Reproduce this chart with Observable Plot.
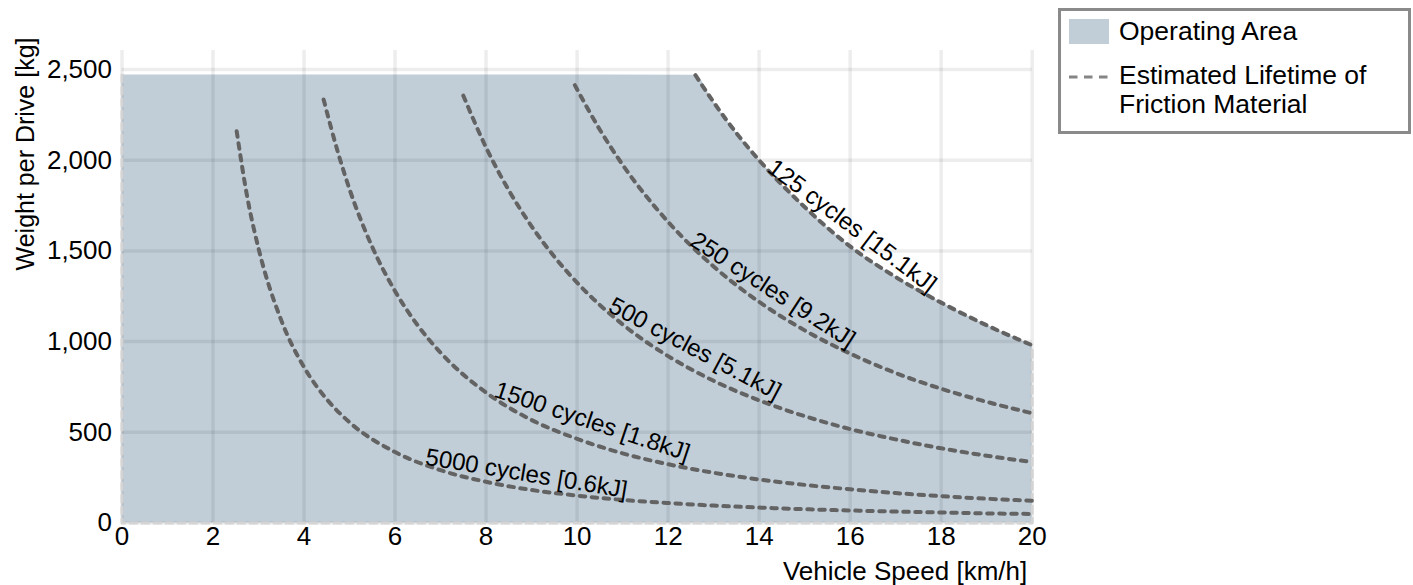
<!DOCTYPE html>
<html>
<head>
<meta charset="utf-8">
<script src="https://cdn.jsdelivr.net/npm/d3@7"></script>
<script src="https://cdn.jsdelivr.net/npm/@observablehq/plot@0.6"></script>
<style>
  html, body { margin: 0; padding: 0; background: #fff; }
  body { font-family: "Liberation Sans", Arial, Helvetica, sans-serif; }
  #wrap { position: relative; width: 1413px; height: 585px; overflow: hidden; }
  #chart { position: absolute; left: 0; top: 0; }
  #legend {
    position: absolute; left: 1058px; top: 8px; width: 347px; height: 120px;
    border: 3px solid #8a8a8a; background: #fff; font-size: 26.5px; color: #000;
  }
  .lg-row { position: absolute; left: 8px; display: flex; align-items: flex-start; }
  .lg-swatch { width: 40px; height: 25px; background: #c1ced8; }
  .lg-text { line-height: 29px; white-space: nowrap; }
</style>
</head>
<body>
<div id="wrap">
  <div id="chart"></div>
  <div id="legend">
    <div class="lg-row" style="top:8px;">
      <div class="lg-swatch"></div>
      <div class="lg-text" style="margin-left:10px; margin-top:-2px;">Operating Area</div>
    </div>
    <div class="lg-row" style="top:50px;">
      <svg width="40" height="30" style="display:block;"><line x1="0" y1="16" x2="40" y2="16" stroke="#858585" stroke-width="3" stroke-dasharray="8.5,6.5"></line></svg>
      <div class="lg-text" style="margin-left:10px;">Estimated Lifetime of<br>Friction Material</div>
    </div>
  </div>
</div>
<script>
// ---- Data ----
// Axis ticks
const xTicks = [0, 2, 4, 6, 8, 10, 12, 14, 16, 18, 20];
const yTicks = [0, 500, 1000, 1500, 2000, 2500];

// Operating area: flat top then follows the 125-cycle curve
const areaTopX = [0];
const areaTopY = [2470];

// Lifetime curves (vehicle speed km/h -> weight per drive kg)
const c125X = [12.6, 13, 13.5, 14, 15, 16, 17, 18, 19, 20];
const c125Y = [2469, 2320, 2150, 2000, 1742, 1525, 1356, 1215, 1090, 980];

const c250X = [9.95, 10.5, 11, 12, 13, 14, 15, 16, 17, 18, 19, 20];
const c250Y = [2414, 2168, 1975, 1660, 1414, 1219, 1062, 934, 827, 740, 668, 605];

const c500X = [7.5, 8, 8.5, 9, 9.5, 10, 11, 12, 13, 14, 15, 16, 17, 18, 19, 20];
const c500Y = [2356, 2070, 1834, 1636, 1468, 1325, 1095, 920, 784, 676, 589, 518, 461, 412, 371, 336];

const c1500X = [4.43, 4.75, 5, 5.5, 6, 6.5, 7, 8, 9, 10, 11, 12, 13, 14, 15, 16, 17, 18, 19, 20];
const c1500Y = [2335, 2039, 1840, 1521, 1278, 1089, 939, 719, 568, 464, 384, 324, 277, 240, 210, 186, 165, 148, 134, 123];

const c5000X = [2.52, 2.75, 3, 3.5, 4, 4.5, 5, 6, 7, 8, 9, 10, 11, 12, 13, 14, 15, 16, 17, 18, 19, 20];
const c5000Y = [2160, 1800, 1514, 1117, 859, 682, 555, 391, 291, 227, 182, 151, 127, 110, 96, 85, 76, 69, 63, 58, 53, 50];

// Curve labels (anchor positions of each label along its curve)
const labelText = ["125 cycles [15.1kJ]", "250 cycles [9.2kJ]", "500 cycles [5.1kJ]", "1500 cycles [1.8kJ]", "5000 cycles [0.6kJ]"];
const labelX = [15.94, 14.21, 12.51, 10.28, 8.86];
const labelY = [1604, 1249, 924, 519, 230];
const labelAngle = [37, 33, 28, 18.5, 9.5];

// ---- Build tables ----
const zip = (xs, ys, extra = {}) => xs.map((x, i) => ({x, y: ys[i], ...extra}));
const areaData = zip(areaTopX.concat(c125X), areaTopY.concat(c125Y));
const curves = [
  zip(c125X, c125Y, {k: "125"}),
  zip(c250X, c250Y, {k: "250"}),
  zip(c500X, c500Y, {k: "500"}),
  zip(c1500X, c1500Y, {k: "1500"}),
  zip(c5000X, c5000Y, {k: "5000"})
].flat();
const labels = labelText.map((t, i) => ({t, x: labelX[i], y: labelY[i], r: labelAngle[i]}));
const areaRight = areaData[areaData.length - 1];
const borderData = [
  {x: 0, y: areaTopY[0]}, {x: 0, y: 0}, {x: areaRight.x, y: 0}, {x: areaRight.x, y: areaRight.y}
];

const FONT = "Liberation Sans, Arial, Helvetica, sans-serif";

const chart = Plot.plot({
  width: 1055,
  height: 585,
  marginLeft: 121.5,
  marginRight: 23.3,
  marginTop: 50,
  marginBottom: 62.5,
  style: {fontFamily: FONT, fontSize: "26px", color: "#000", background: "transparent", overflow: "visible"},
  x: {domain: [0, 20], ticks: xTicks, tickSize: 0, tickPadding: 4, label: null},
  y: {domain: [0, 2605], ticks: yTicks, tickSize: 0, tickPadding: 10, tickFormat: d3.format(","), label: null},
  marks: [
    Plot.areaY(areaData, {x: "x", y: "y", fill: "#c1ced8", curve: "monotone-x"}),
    Plot.ruleX(xTicks, {stroke: "#000", strokeOpacity: 0.07, strokeWidth: 3.5}),
    Plot.ruleY(yTicks, {stroke: "#000", strokeOpacity: 0.07, strokeWidth: 3.5}),
    Plot.line(borderData, {x: "x", y: "y", stroke: "#d4d4d4", strokeWidth: 3, strokeDasharray: "7,5"}),
    Plot.line(curves, {x: "x", y: "y", z: "k", stroke: "#636363", strokeWidth: 4, strokeDasharray: "5.5,6.5", curve: "monotone-x"}),
    Plot.text(labels, {x: "x", y: "y", text: "t", rotate: "r", lineAnchor: "bottom", textAnchor: "middle", fontSize: 24, fill: "#000"}),
    Plot.text(["Vehicle Speed [km/h]"], {frameAnchor: "bottom-right", textAnchor: "end", dx: -5, dy: 57, fontSize: 26, fill: "#000"}),
    Plot.text(["Weight per Drive [kg]"], {frameAnchor: "top-left", textAnchor: "end", rotate: -90, dx: -105.5, dy: -13, fontSize: 25, fill: "#000"})
  ]
});
document.getElementById("chart").appendChild(chart);
</script>
</body>
</html>
